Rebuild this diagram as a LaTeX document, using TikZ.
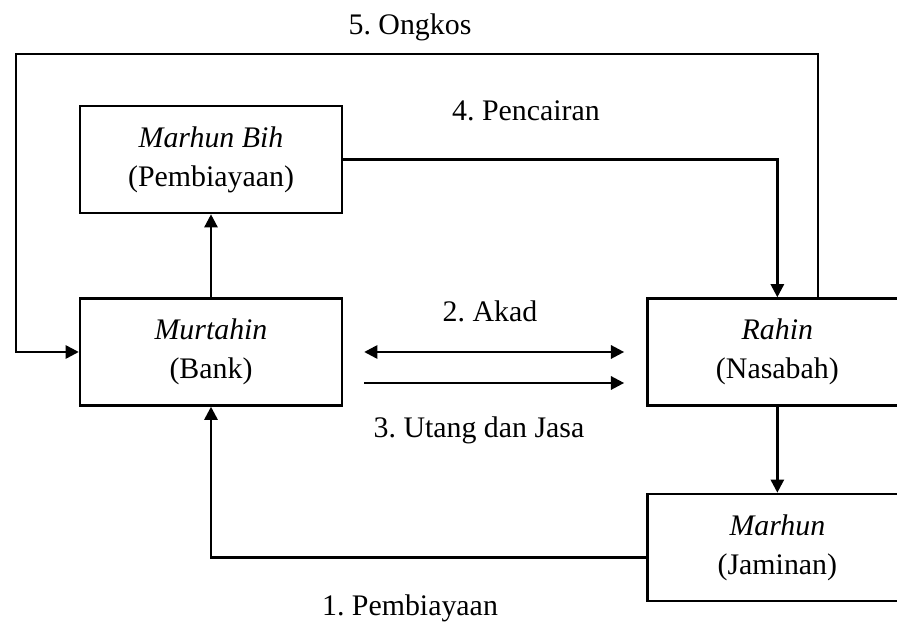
\documentclass[tikz,border=0pt]{standalone}
\usepackage{fontspec}
\setmainfont{Liberation Serif}
\usetikzlibrary{positioning,arrows.meta}
\frenchspacing
\newcommand{\diagfont}{\fontsize{17}{22.1}\selectfont}
\tikzset{
  box/.style={draw=black,line width=1.4pt,align=center,minimum width=5.24cm,minimum height=2.14cm,inner sep=0pt,font=\diagfont},
  lbl/.style={anchor=base,inner sep=0pt,font=\diagfont},
  arr/.style={-{Triangle[length=7.5pt,width=7.5pt]},line width=1.4pt},
  dbl/.style={{Triangle[length=7.5pt,width=7.5pt]}-{Triangle[length=7.5pt,width=7.5pt]},line width=1.4pt},
}
\begin{document}
\begin{tikzpicture}[x=0.02cm,y=-0.02cm]
  \useasboundingbox (0,0) rectangle (897,624);
  \node[box] (murt) at (211,352) {\textit{Murtahin}\\(Bank)};
  \node[box,above=1.66cm of murt] (bih) {\textit{Marhun Bih}\\(Pembiayaan)};
  \node[box,right=6.06cm of murt,minimum width=5.2cm] (rahin) {\textit{Rahin}\\(Nasabah)};
  \node[box,below=1.72cm of rahin,minimum width=5.2cm] (marhun) {\textit{Marhun}\\(Jaminan)};
  % bends
  \coordinate (ongx) at (818,0);
  \coordinate (kiri) at (16,54);
  \coordinate (utang) at ([yshift=-0.62cm]murt.east);
  \coordinate (jmn) at ([yshift=-0.2cm]marhun.west);
  % connectors
  \draw[arr] (rahin.north -| ongx) |- (kiri) |- (murt.west);
  \draw[arr] (bih.east) -| (rahin.north);
  \draw[arr] (murt) -- (bih);
  \draw[dbl,shorten <=0.42cm,shorten >=0.44cm] (murt.east) -- (murt.east -| rahin.west);
  \draw[arr,shorten <=0.42cm,shorten >=0.44cm] (utang) -- (utang -| rahin.west);
  \draw[arr] (rahin) -- (marhun);
  \draw[arr] (jmn) -| (murt.south);
  % labels
  \node[lbl] (t5) at (410,35) {5. Ongkos};
  \node[lbl] (t4) at (526,121) {4. Pencairan};
  \node[lbl] (t2) at (490,322) {2. Akad};
  \node[lbl] (t3) at (479,438) {3. Utang dan Jasa};
  \node[lbl] (t1) at (410,616) {1. Pembiayaan};
\end{tikzpicture}
\end{document}
